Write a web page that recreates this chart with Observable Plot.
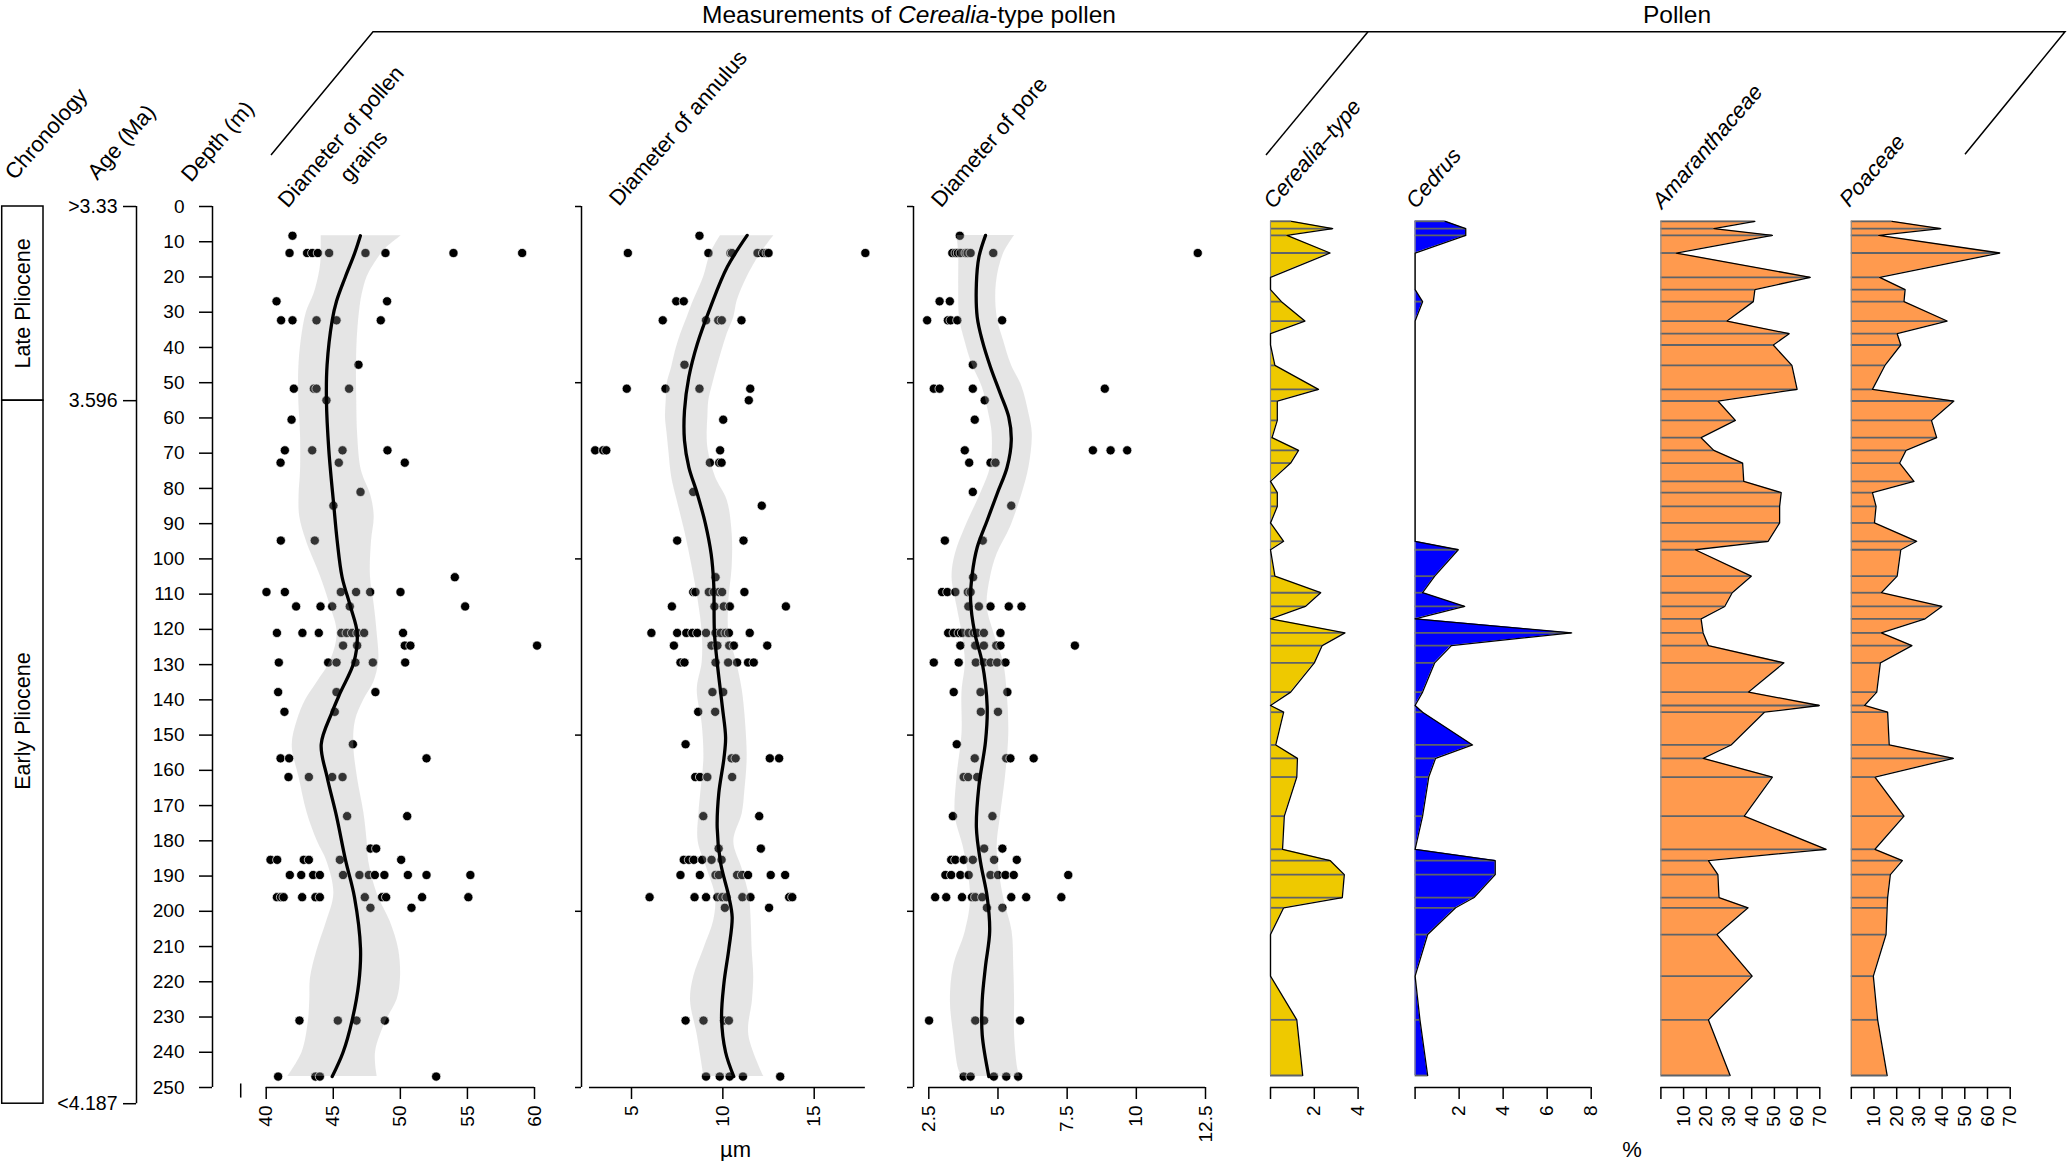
<!DOCTYPE html>
<html><head><meta charset="utf-8">
<script src="https://cdn.jsdelivr.net/npm/d3@7"></script>
<script src="https://cdn.jsdelivr.net/npm/@observablehq/plot@0.6"></script>
<style>
html,body{margin:0;padding:0;background:#fff;}
#chart{position:relative;width:2067px;height:1161px;overflow:hidden;background:#fff;}
#chart svg{position:absolute;left:0;top:0;}
</style></head><body><div id="chart"></div>
<script>
// ---------------- DATA ----------------
const depthTicks = [0,10,20,30,40,50,60,70,80,90,100,110,120,130,140,150,160,170,180,190,200,210,220,230,240,250];
const frameTicks = [0,50,100,150,200,250];
const ageLabels = [">3.33", "3.596", "<4.187"];
const ageDepths = [0, 55.1, 254.6];
const chronoNames = ["Late Pliocene", "Early Pliocene"];
const chronoTop = [0, 55.1];
const chronoBottom = [55.1, 254.6];
const chronoLabelDepth = [27.5, 146];

// measurement sample depths (m)
const measDepths = [8.3, 13.2, 26.9, 32.3, 44.9, 51.7, 55.0, 60.5, 69.2, 72.7, 81.0, 84.9, 94.8, 105.2, 109.4, 113.5, 121.0, 124.6, 129.4, 137.8, 143.4, 152.6, 156.6, 161.9, 173.0, 182.2, 185.4, 189.7, 196.0, 199.0, 231.0, 246.9];
const grainDiameter = [
 [41.96],[41.74,43.05,43.43,43.85,44.69,47.40,48.89,53.96,59.08],[40.77,49.01],[41.11,41.96,43.75,45.24,48.54],
 [46.88],[42.06,43.55,43.75,46.18],[44.49],[41.89],[41.39,43.43,45.69,49.04],[41.07,45.41,50.33],[47.03],[45.01],
 [41.09,43.62],[54.06],[40.02,41.39,45.56,46.70,47.75,50.01],[42.23,44.05,44.92,46.23,54.83],
 [40.80,42.70,43.92,45.60,46.00,46.40,46.80,47.30,50.20],[45.73,46.78,50.33,50.75,60.19],
 [40.94,44.62,45.24,46.65,47.95,50.36],[40.89,45.24,48.14],[41.36,45.11],[46.46],[41.07,41.71,51.95],
 [41.66,43.18,44.92,45.69],[46.03,50.51],[47.77,48.20],[40.32,40.82,42.80,43.18,45.49,50.06],
 [41.76,42.61,43.50,44.00,45.73,46.95,47.65,48.10,48.81,50.56,51.95,55.22],
 [40.80,41.10,41.30,42.68,43.67,44.00,47.35,48.64,48.94,51.62,55.07],[47.77,50.83],[42.48,45.34,46.73,48.84],[40.89,43.67,44.00,52.67]];
const annulusDiameter = [
 [8.72],[4.80,9.21,10.42,10.50,11.90,12.20,12.40,12.50,17.80],[7.45,7.86],[6.71,9.08,9.75,9.94,11.02],
 [7.90],[4.74,6.86,8.72,11.50],[11.42],[10.02],[3.01,3.45,3.62,9.85],[9.29,9.80,9.93],[8.38],[12.13],
 [7.50,11.13],[9.60],[8.38,8.50,9.23,9.50,9.78,9.96,11.18],[7.21,9.54,10.05,10.38,13.45],
 [6.09,7.50,8.00,8.33,8.60,9.08,9.60,9.88,10.15,10.33,11.47],[7.32,9.38,9.70,10.35,10.60,12.43],
 [7.68,7.90,9.60,10.29,10.78,11.38,11.69],[9.43,10.02],[8.65,9.58],[7.96],[10.48,10.70,12.57,13.08],
 [8.49,8.75,9.15,10.51],[8.93,11.99],[9.77,12.08],[7.86,8.14,8.41,8.87,9.38,9.93],
 [7.68,8.74,9.60,9.78,10.78,11.05,11.38,12.62,13.41],
 [5.99,8.45,9.08,9.70,9.97,10.20,11.07,11.51,13.63,13.80],[10.11,12.53],[7.96,8.94,10.06,10.33],[9.08,9.83,10.37,11.10,13.14]];
const poreDiameter = [
 [3.62],[3.35,3.47,3.55,3.65,3.83,3.90,4.01,4.83,12.22],[2.89,3.26],[2.44,3.19,3.29,3.53,5.15],
 [4.09],[2.68,2.89,4.09,8.86],[4.52],[4.16],[3.80,8.43,9.07,9.67],[3.96,4.73,4.91],[4.09],[5.48],
 [3.08,4.45],[4.10],[2.98,3.17,3.46,3.91,4.01],[3.93,4.31,4.73,5.39,5.85],
 [3.20,3.40,3.58,3.70,3.94,4.12,4.25,4.49,5.09],[3.64,4.18,4.49,4.94,5.09,7.78],
 [2.68,3.58,4.20,4.49,4.73,4.97,5.27],[3.40,4.37,5.34],[4.38,5.00],[3.51],[4.16,5.30,5.45,6.29],
 [3.76,3.92,4.25],[3.37,4.80],[4.50,5.16],[3.31,3.46,3.76,4.09,4.86,5.68],
 [3.10,3.31,3.64,3.94,4.73,5.00,5.27,5.57,7.54],
 [2.73,3.13,3.70,4.06,4.18,4.43,5.48,6.02,7.29],[4.60,5.16],[2.51,4.18,4.50,5.80],[3.76,4.01,4.85,5.30,5.73]];

// smoothed fits and confidence bands
const grainFitDepth = [8.3,13.2,20,26.9,32.3,44.9,55,69.2,84.9,94.8,105.2,113.5,121,129.4,137.8,143.4,152.6,161.9,173,185.4,196,210.6,220.4,231,240,246.9];
const grainFit = [47.02,46.6,45.9,45.24,44.92,44.54,44.49,44.67,45.04,45.29,45.66,46.28,46.78,46.53,45.54,44.92,44.1,44.54,45.24,45.91,46.58,47.03,46.9,46.4,45.73,44.92];
const grainBandDepth = [8.3,12,16,20,25,30,38,46,55,65,75,82,88,95,105,113,121,129,135,140,146,153,162,172,180,186,195,203,211,219,225,231,240,246.9];
const grainLo = [44.1,44.1,44.07,43.9,43.55,43.0,42.61,42.43,42.43,42.56,42.56,42.45,42.5,43.0,44.05,44.75,45.29,44.79,43.8,42.95,42.31,41.94,42.45,43.05,43.8,44.54,45.04,44.5,43.8,43.3,43.25,43.15,42.68,41.61];
const grainHi = [50.08,48.9,48.1,47.52,47.15,46.95,46.78,46.73,46.75,46.82,47.1,47.8,48.05,47.85,47.77,48.05,48.27,48.39,48.02,47.28,46.65,46.53,46.8,47.28,47.52,47.65,48.27,49.25,49.88,50.01,49.76,48.95,48.15,48.27];

const annulusFitDepth = [8.2,17.2,28.6,39,48.4,57.9,66.4,74,81.5,90.1,98.6,107.1,121,129.4,141.9,150.7,156.6,166.4,176.2,186.1,195.9,201.7,210.6,220.4,230.2,240,246.9];
const annulusFit = [11.33,10.24,9.32,8.6,8.14,7.9,7.9,8.14,8.6,9.05,9.36,9.5,9.54,9.69,9.97,10.15,10.06,9.78,9.69,9.87,10.33,10.51,10.33,10.06,9.93,10.15,10.6];
const annulusBandDepth = [8.3,13.4,20,26.7,31.4,36.1,40.9,45.6,50.3,55.1,59.8,64.5,69.2,76.8,83.4,92.9,102.3,111.8,121,129.3,137.1,146.9,156.7,166,172.3,180.2,188,195.9,202.7,210.6,218.5,225.3,235.1,246.9];
const annulusLo = [9.87,9.32,8.95,8.4,8.05,7.7,7.41,7.2,6.95,6.9,6.86,6.95,7.04,7.2,7.5,7.95,8.32,8.65,8.87,8.87,8.6,8.87,8.96,8.8,8.69,8.65,9.14,9.6,9.5,8.96,8.41,8.23,8.6,8.96];
const annulusHi = [12.79,12.06,11.33,10.79,10.6,10.24,9.95,9.69,9.45,9.23,9.18,9.14,9.2,9.6,10.24,10.51,10.51,10.33,10.33,10.75,11.06,11.25,11.33,11.2,11.06,10.6,11.06,11.45,11.55,11.6,11.69,11.62,11.42,12.24];

const poreFitDepth = [8.2,14.4,21.9,31.4,38,45.6,53.2,59.8,66.4,74,81.5,89.1,96.7,104.3,111.8,121,129.4,141.9,151.8,164.5,176.2,186.1,195.9,205.7,215.5,225.3,235.1,246.9];
const poreFit = [4.55,4.31,4.22,4.25,4.43,4.73,5.09,5.39,5.48,5.33,4.97,4.61,4.25,4.07,4.01,4.16,4.43,4.61,4.55,4.31,4.22,4.37,4.61,4.7,4.55,4.43,4.43,4.67];
const poreBandDepth = [8.2,13.4,21.9,31.4,38,44.9,51.2,58.8,64.5,74,81.5,91,98.6,105.2,113.5,121,129.4,137.8,149.7,161.9,173,182.2,196,205.7,215.5,225.3,235.1,244.9,246.9];
const poreLo = [3.52,3.58,3.58,3.61,3.8,4.07,4.43,4.67,4.79,4.73,4.37,3.82,3.46,3.34,3.52,3.7,3.82,3.7,3.7,3.52,3.46,3.76,4.01,3.82,3.4,3.28,3.4,3.58,3.7];
const poreHi = [5.6,5.2,4.94,4.97,5.2,5.48,5.87,6.12,6.24,6.12,5.87,5.45,4.97,4.73,4.61,4.85,5.2,5.33,5.39,5.27,5.09,4.97,5.2,5.51,5.57,5.6,5.6,5.72,5.8];

// pollen percentages
const pollenDepths = [4.2,6.3,8.2,13.2,20.1,23.6,27.0,32.5,36.1,39.3,45.1,51.9,55.2,60.7,65.6,69.2,72.8,78.0,81.2,85.1,89.8,95.0,97.4,104.9,109.6,113.5,117.0,121.0,124.6,129.5,137.8,141.6,143.5,152.8,156.6,161.9,173.0,182.4,185.6,189.6,196.1,199.0,206.6,218.4,230.8,246.6];
const cerealia = [0.96,2.84,0.75,2.72,0,0,0.5,1.57,0,0,0.2,2.19,0.31,0.31,0.07,1.28,0.92,0,0.31,0.31,0,0.6,0,0.2,2.29,1.59,0,3.4,2.36,2.0,0.92,0,0.6,0.24,1.23,1.2,0.63,0.55,2.72,3.37,3.28,0.6,0,0,1.2,1.47];
const cedrus = [1.37,2.3,2.3,0,0,0,0.34,0,0,0,0,0,0,0,0,0,0,0,0,0,0,0,1.96,0.89,0.34,2.25,0,7.11,1.65,0.89,0.34,0,0.34,2.61,0.93,0.62,0.34,0,3.64,3.64,2.68,1.84,0.57,0,0.22,0.57];
const amaranthaceae = [41.4,23.3,49.1,6.7,65.8,41.4,40.7,29.1,56.5,49.5,57.7,60.0,25.1,32.8,17.7,23.3,36.0,36.5,53.0,52.3,52.3,47.2,15.1,39.8,31.4,28.1,17.7,18.6,20.9,54.2,38.6,69.8,45.6,30.9,18.6,49.1,36.7,72.8,20.9,25.1,25.6,38.4,24.7,40.2,20.9,30.5];
const poaceae = [17.9,39.4,12.1,65.4,12.5,23.7,23.2,42.2,20.2,21.8,14.8,9.3,45.2,35.3,37.6,24.1,21.3,27.6,9.3,10.9,10.2,28.8,21.8,20.2,13.2,39.9,32.5,13.2,26.7,12.8,11.2,5.8,16.0,16.7,45.0,10.4,23.2,10.4,22.5,17.2,16.0,15.8,15.3,9.7,11.6,15.8];

// ---------------- RENDER ----------------
const W = 2067, H = 1161;
const FONT = "'Liberation Sans', Arial, Helvetica, sans-serif";
const chart = document.getElementById("chart");

function panel({x, marginLeft = 0, marks}) {
  const svg = Plot.plot({
    width: W, height: H, marginTop: 206, marginBottom: 74, marginLeft, marginRight: 0,
    style: {background: "transparent", fontFamily: FONT, fontSize: "19px", color: "black", overflow: "visible"},
    x: {...x, axis: null},
    y: {domain: [0, 250], range: [206, 1087], axis: null},
    marks
  });
  svg.style.position = "absolute"; svg.style.left = "0px"; svg.style.top = "0px";
  chart.appendChild(svg);
}

// chronology box
const chronoRows = chronoNames.map((n, i) => ({name: n, top: chronoTop[i], bottom: chronoBottom[i], label: chronoLabelDepth[i]}));
panel({x: {domain: [0, 1], range: [1.7, 43]}, marks: [
  Plot.rect(chronoRows, {x1: 0, x2: 1, y1: "top", y2: "bottom", fill: "none", stroke: "black", strokeWidth: 1.5}),
  Plot.text(chronoRows, {x: 0.5, y: "label", text: "name", rotate: -90, fontSize: 21.5})
]});

// age axis
const ageRows = ageLabels.map((l, i) => ({label: l, depth: ageDepths[i]}));
panel({x: {domain: [0, 1], range: [123, 136]}, marks: [
  Plot.ruleX([1], {y1: ageDepths[0], y2: ageDepths[ageDepths.length - 1], strokeWidth: 1.5}),
  Plot.ruleY(ageRows, {y: "depth", x1: 0, x2: 1, strokeWidth: 1.5}),
  Plot.text(ageRows, {x: 0, y: "depth", text: "label", textAnchor: "end", dx: -6, fontSize: 19.5})
]});

// depth axis
panel({x: {domain: [0, 1], range: [199, 212]}, marginLeft: 212, marks: [
  Plot.ruleX([1], {y1: 0, y2: 250, strokeWidth: 1.5}),
  Plot.axisY({anchor: "left", ticks: depthTicks, tickSize: 13, tickPadding: 15, fontSize: 19, label: null, strokeWidth: 1.5})
]});

function pts(vals) { return measDepths.flatMap((d, i) => vals[i].map(v => ({d, v}))); }
function rows(depths, vals) { return depths.map((d, i) => ({d, v: vals[i]})); }
function band(depths, lo, hi) { return depths.map((d, i) => ({d, lo: lo[i], hi: hi[i]})); }

function scatterMarks(points, bandRows, fitRows, axisExtent, ticks) {
  return [
    Plot.dot(points, {x: "v", y: "d", r: 4.6, fill: "black", stroke: "white", strokeWidth: 0.7}),
    Plot.areaX(bandRows, {y: "d", x1: "lo", x2: "hi", fill: "#aaaaaa", fillOpacity: 0.3, curve: "catmull-rom"}),
    Plot.line(fitRows, {x: "v", y: "d", stroke: "black", strokeWidth: 3.3, curve: "catmull-rom"}),
    Plot.ruleY([250], {x1: axisExtent[0], x2: axisExtent[1], strokeWidth: 1.5}),
    Plot.axisX({anchor: "bottom", ticks, tickFormat: d => String(d), tickSize: 12, tickPadding: 6, tickRotate: -90, fontSize: 19, label: null, strokeWidth: 1.5})
  ];
}
function leftFrame(range) {
  panel({x: {domain: [0, 1], range}, marks: [
    Plot.ruleX([1], {y1: 0, y2: 250, strokeWidth: 1.5}),
    Plot.ruleY(frameTicks, {y: d => d, x1: 0, x2: 1, strokeWidth: 1.5})
  ]});
}

// panel 1: diameter of pollen grains
panel({x: {domain: [40, 60], range: [265.7, 534]}, marks: [
  ...scatterMarks(pts(grainDiameter), band(grainBandDepth, grainLo, grainHi), rows(grainFitDepth, grainFit), [40, 60], [40, 45, 50, 55, 60]),
  Plot.ruleX([38.1], {y1: 249, y2: 253, strokeWidth: 1.5})
]});
// panel 2: annulus
leftFrame([575, 581]);
panel({x: {domain: [5, 15], range: [631, 813.7]}, marks:
  scatterMarks(pts(annulusDiameter), band(annulusBandDepth, annulusLo, annulusHi), rows(annulusFitDepth, annulusFit), [2.7, 17.8], [5, 10, 15])
});
// panel 3: pore
leftFrame([907, 913]);
panel({x: {domain: [2.5, 12.5], range: [928.3, 1205]}, marks:
  scatterMarks(pts(poreDiameter), band(poreBandDepth, poreLo, poreHi), rows(poreFitDepth, poreFit), [2.5, 12.5], [2.5, 5, 7.5, 10, 12.5])
});

// pollen curves
function pollen(vals, color, domain, range, ticks) {
  const r = rows(pollenDepths, vals);
  panel({x: {domain, range}, marks: [
    Plot.areaX(r, {y: "d", x1: 0, x2: "v", fill: color}),
    Plot.ruleY(r.filter(d => d.v > 0), {y: "d", x1: 0, x2: "v", stroke: "#5f6368", strokeWidth: 1.8}),
    Plot.ruleX([0], {y1: pollenDepths[0], y2: pollenDepths[pollenDepths.length - 1], stroke: "#8c8c8c", strokeWidth: 1.2}),
    Plot.line(r, {x: "v", y: "d", stroke: "black", strokeWidth: 1.3}),
    Plot.ruleY([250], {x1: domain[0], x2: domain[1], strokeWidth: 1.5}),
    Plot.axisX({anchor: "bottom", ticks, tickFormat: d => d === 0 ? "" : String(d), tickSize: 12, tickPadding: 6, tickRotate: -90, fontSize: 19, label: null, strokeWidth: 1.5})
  ]});
}
pollen(cerealia, "#eec900", [0, 4], [1270, 1357.6], [0, 2, 4]);
pollen(cedrus, "#0000ff", [0, 8], [1414.6, 1590.7], [0, 2, 4, 6, 8]);
pollen(amaranthaceae, "#ff9a4e", [0, 70], [1660.4, 1819.3], [0, 10, 20, 30, 40, 50, 60, 70]);
pollen(poaceae, "#ff9a4e", [0, 70], [1850.8, 2009.7], [0, 10, 20, 30, 40, 50, 60, 70]);

// ---------------- HEADER / ANNOTATIONS ----------------
const svg = d3.select(chart).append("svg").attr("width", W).attr("height", H)
  .style("font-family", FONT).style("overflow", "visible");
svg.append("path").attr("d", "M271,155 L373,31.7 L2065,31.7 L1965,154.3").attr("fill", "none").attr("stroke", "black").attr("stroke-width", 1.5);
svg.append("path").attr("d", "M1368,31.7 L1266,155").attr("fill", "none").attr("stroke", "black").attr("stroke-width", 1.5);
const t1 = svg.append("text").attr("x", 909).attr("y", 22.5).attr("text-anchor", "middle").attr("font-size", 24.5);
t1.append("tspan").text("Measurements of ");
t1.append("tspan").attr("font-style", "italic").text("Cerealia");
t1.append("tspan").text("-type pollen");
svg.append("text").attr("x", 1677).attr("y", 22.5).attr("text-anchor", "middle").attr("font-size", 24.5).text("Pollen");

const DX = 8, DY = 3;
const heads = [
  {t: "Chronology", x: 6.7, y: 178, it: false},
  {t: "Age (Ma)", x: 89.3, y: 178, it: false},
  {t: "Depth (m)", x: 183, y: 180, it: false},
  {t: "Diameter of annulus", x: 611, y: 204, it: false},
  {t: "Diameter of pore", x: 933, y: 205.6, it: false},
  {t: "Cerealia\u2013type", x: 1265.3, y: 206.7, it: true},
  {t: "Cedrus", x: 1407.7, y: 206.7, it: true},
  {t: "Amaranthaceae", x: 1654, y: 206.7, it: true},
  {t: "Poaceae", x: 1841.3, y: 205, it: true}
];
for (const h of heads) {
  svg.append("text").attr("transform", `translate(${h.x + DX},${h.y + DY}) rotate(-49)`)
    .attr("font-size", 22).attr("font-style", h.it ? "italic" : "normal").text(h.t);
}
const dp = svg.append("text").attr("transform", `translate(${338.4 + DX},${138.4 + DY}) rotate(-49)`).attr("font-size", 22).attr("text-anchor", "middle");
dp.append("tspan").attr("x", 0).attr("dy", 0).text("Diameter of pollen");
dp.append("tspan").attr("x", 0).attr("dy", 30).text("grains");

svg.append("text").attr("x", 735.6).attr("y", 1157).attr("text-anchor", "middle").attr("font-size", 22).text("\u00b5m");
svg.append("text").attr("x", 1632).attr("y", 1157).attr("text-anchor", "middle").attr("font-size", 22).text("%");
</script></body></html>
